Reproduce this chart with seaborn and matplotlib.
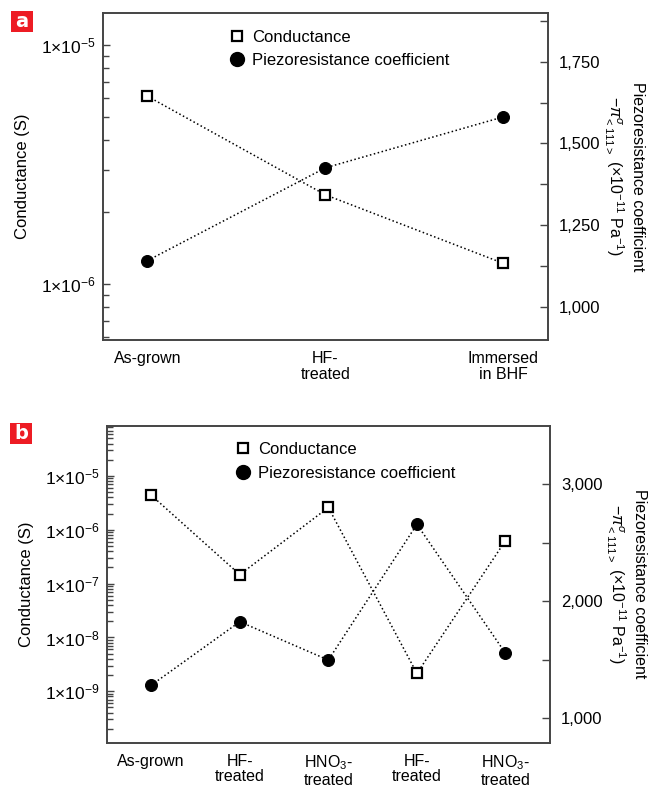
import numpy as np
import pandas as pd
import matplotlib
matplotlib.use("Agg")
import matplotlib.pyplot as plt
import matplotlib.ticker as mticker
from matplotlib.lines import Line2D
from matplotlib.patches import Rectangle
import seaborn as sns

# panel a data
labels_a = ["As-grown", "HF-\ntreated", "Immersed\nin BHF"]
cond_a = [6.1e-6, 2.36e-6, 1.22e-6]
piezo_a = [1141, 1425, 1581]

# panel b data
labels_b = ["As-grown", "HF-\ntreated", "HNO$_3$-\ntreated", "HF-\ntreated", "HNO$_3$-\ntreated"]
cond_b = [4.4e-6, 1.47e-7, 2.6e-6, 2.15e-9, 6.3e-7]
piezo_b = [1282, 1824, 1497, 2655, 1555]

sns.set_style("white")
FONT = ["Liberation Sans", "DejaVu Sans"]
plt.rcParams["font.family"] = FONT
plt.rcParams["mathtext.fontset"] = "custom"
plt.rcParams["mathtext.rm"] = "Liberation Sans"
plt.rcParams["mathtext.it"] = "Liberation Sans:italic"
plt.rcParams["mathtext.bf"] = "Liberation Sans:bold"
plt.rcParams["font.size"] = 11.5
plt.rcParams["text.color"] = "black"
plt.rcParams["axes.labelcolor"] = "black"
plt.rcParams["xtick.color"] = "black"
plt.rcParams["ytick.color"] = "black"

SPINE = "#444444"
FS = 11.5


def sci_fmt(v, pos):
    e = int(np.round(np.log10(v)))
    return r"$1{\times}10^{%d}$" % e


def make_panel(fig, rect, labels, cond, piezo, ylim_l, ylim_r, rmajor, rminor, xlim, leg_x):
    ax = fig.add_axes(rect)
    x = np.arange(len(labels))
    df = pd.DataFrame({"x": x, "cond": cond, "piezo": piezo})

    sns.lineplot(data=df, x="x", y="cond", ax=ax, color="black", linestyle=":",
                 linewidth=1.1, marker="s", markersize=6.5, markerfacecolor="white",
                 markeredgecolor="black", markeredgewidth=1.6, zorder=3)
    ax.set_yscale("log")
    ax.set_ylim(*ylim_l)
    ax.set_xlim(*xlim)
    # only decades inside the view get a label
    decades = 10.0 ** np.arange(np.ceil(np.log10(ylim_l[0])), np.floor(np.log10(ylim_l[1])) + 1)
    ax.yaxis.set_major_locator(mticker.FixedLocator(decades))
    ax.yaxis.set_minor_locator(mticker.LogLocator(base=10, subs=np.arange(2, 10), numticks=20))
    ax.yaxis.set_major_formatter(mticker.FuncFormatter(sci_fmt))
    ax.yaxis.set_minor_formatter(mticker.NullFormatter())
    ax.set_xticks(x)
    ax.set_xticklabels(labels, linespacing=1.05)
    ax.set_xlabel("")
    ax.set_ylabel("Conductance (S)", fontsize=FS + 0.5, labelpad=8)

    ax2 = ax.twinx()
    sns.lineplot(data=df, x="x", y="piezo", ax=ax2, color="black", linestyle=":",
                 linewidth=1.1, marker="o", markersize=8.6, markerfacecolor="black",
                 markeredgecolor="black", zorder=3)
    ax2.set_xlabel("")
    ax2.set_ylim(*ylim_r)
    ax2.yaxis.set_major_locator(mticker.MultipleLocator(rmajor))
    ax2.yaxis.set_minor_locator(mticker.MultipleLocator(rminor))
    ax2.yaxis.set_major_formatter(mticker.FuncFormatter(lambda v, p: f"{v:,.0f}"))
    ax2.set_ylabel("Piezoresistance coefficient\n"
                   r"$-\mathit{\pi}^{\sigma}_{<111>}$ (${\times}$10$^{-11}$ Pa$^{-1}$)",
                   rotation=270, fontsize=FS, labelpad=32, linespacing=1.3)
    ax2.set_xlim(*xlim)

    for a in (ax, ax2):
        for s in a.spines.values():
            s.set_color(SPINE)
            s.set_linewidth(1.2)
    ax.tick_params(axis="y", which="major", direction="in", length=5, width=1, color=SPINE, labelsize=12.5, pad=5)
    ax.tick_params(axis="y", which="minor", direction="in", length=4, width=1, color=SPINE)
    ax.tick_params(axis="x", direction="inout", length=10, width=1, color=SPINE, labelsize=FS, pad=3)
    ax2.tick_params(axis="y", which="major", direction="in", length=6, width=1, color=SPINE, labelsize=FS + 0.5, pad=8)
    ax2.tick_params(axis="y", which="minor", direction="in", length=6, width=1, color=SPINE)

    handles = [
        Line2D([], [], linestyle="none", marker="s", markersize=7, markerfacecolor="white",
               markeredgecolor="black", markeredgewidth=1.6),
        Line2D([], [], linestyle="none", marker="o", markersize=10, markerfacecolor="black",
               markeredgecolor="black"),
    ]
    ax.legend(handles, ["Conductance", "Piezoresistance coefficient"], loc="upper left",
              bbox_to_anchor=(leg_x, 0.995), frameon=False, fontsize=FS + 0.5, handletextpad=0.3,
              labelspacing=0.5, handlelength=1.2)
    return ax, ax2


fig = plt.figure(figsize=(6.6, 7.92), dpi=100)

make_panel(fig, [0.156, 0.5707, 0.674, 0.4129], labels_a, cond_a, piezo_a,
           (5.83e-7, 1.36e-5), (898, 1899), 250, 125, (-0.25, 2.25), 0.245)
make_panel(fig, [0.162, 0.0623, 0.671, 0.4002], labels_b, cond_b, piezo_b,
           (1.11e-10, 8.6e-5), (792, 3497), 1000, 500, (-0.5, 4.5), 0.25)

# red panel letters
for (x0, y0, letter) in [(10.7, 11, "a"), (10.3, 423, "b")]:
    w, h = 22, 21
    fig.patches.append(Rectangle((x0 / 660, 1 - (y0 + h) / 792), w / 660, h / 792,
                                 transform=fig.transFigure, facecolor="#ED1C24",
                                 edgecolor="none"))
    fig.text((x0 + w / 2) / 660, 1 - (y0 + h / 2) / 792, letter, color="white",
             fontsize=14, fontweight="bold", ha="center", va="center", family=["DejaVu Sans"])

fig.savefig("out.png", dpi=100)
